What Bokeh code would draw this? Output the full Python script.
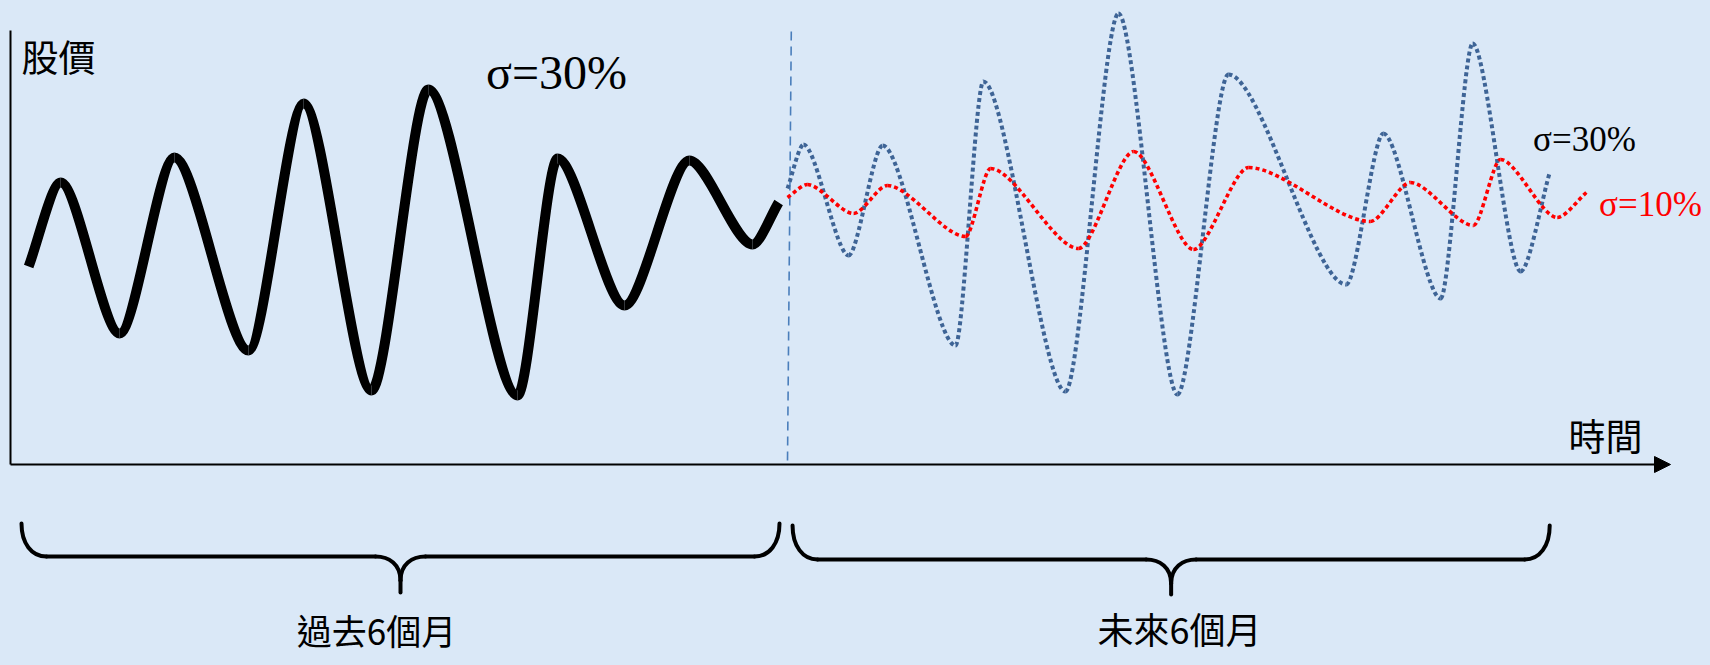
from bokeh.plotting import figure
from bokeh.models import Range1d, Label, Arrow, NormalHead
from bokeh.embed import file_html
from bokeh.resources import INLINE

# ---------------- data (time in days, price in arbitrary units) ----------------
past_day = [1.7, 9.3, 23.3, 36.3, 53.9, 67.0, 83.1, 96.6, 117.8, 127.3, 143.2, 158.6, 173.6, 179.8]
past_price = [99, 141, 65.5, 153.5, 57, 180.5, 37, 187.5, 34.5, 153, 79.5, 152, 110, 131]

fut30_day = [181.9, 185.7, 196.4, 204.5, 221.8, 228.4, 247.9, 260.5, 274.5, 286.6,
             314.6, 323.4, 337.0, 344.6, 356.0, 362.9]
fut30_price = [138, 160, 104.5, 159.5, 59.5, 191.5, 36.5, 225.5, 35, 195,
               90, 165.5, 83, 210.5, 96.5, 146]

fut10_day = [181.9, 186.6, 197.6, 205.6, 224.2, 230.1, 251.0, 264.1, 278.3, 291.4,
             320.3, 329.8, 344.8, 351.2, 364.7, 371.6]
fut10_price = [133.5, 140, 125.5, 139.5, 114, 148, 108, 156.5, 107.5, 148.5,
               121.5, 141, 119.5, 152.5, 123.5, 136]

period_names = ["過去6個月", "未來6個月"]
period_start = [0.0, 183.1]
period_end = [180.0, 362.9]
now_day = 182.4

y_title = "股價"
x_title = "時間"
sigma_hi = "σ=30%"
sigma_lo = "σ=10%"

# ---------------- layout helpers (canvas px -> data) ----------------
BG = "#DAE8F7"
PXD = 758 / 180.0   # px per day
X0 = 21.0           # canvas x of day 0
PXP = 2.0           # px per price unit
Y0 = 464.0          # canvas y of price 0


def dx(sx):
    return (sx - X0) / PXD


def dy(sy):
    return (Y0 - sy) / PXP


def sxd(d):
    return X0 + d * PXD


W, H = 1702, 657
p = figure(width=W, height=H, output_backend="svg", toolbar_location=None,
           x_axis_type=None, y_axis_type=None, min_border=0,
           x_range=Range1d(dx(0), dx(W)), y_range=Range1d(dy(H), dy(0)))
p.background_fill_color = BG
p.border_fill_color = BG
p.outline_line_color = None
p.grid.visible = False


def smooth(xs, ys, k=0.28):
    x0, y0, x1, y1, cx0, cy0, cx1, cy1 = [], [], [], [], [], [], [], []
    n = len(xs)
    for i in range(n - 1):
        ax, ay, bx, by = xs[i], ys[i], xs[i + 1], ys[i + 1]
        ddx = bx - ax
        x0.append(ax); y0.append(ay); x1.append(bx); y1.append(by)
        cx0.append(ax + k * ddx)
        cy0.append(ay if i > 0 else ay + k * (by - ay))
        cx1.append(bx - k * ddx)
        cy1.append(by if i + 1 < n - 1 else by - k * (by - ay))
    return dict(x0=x0, y0=y0, x1=x1, y1=y1, cx0=cx0, cy0=cy0, cx1=cx1, cy1=cy1)


# axes
p.segment(x0=[dx(10)], y0=[dy(464)], x1=[dx(10)], y1=[dy(30)], line_color="black", line_width=2)
p.add_layout(Arrow(end=NormalHead(size=16, fill_color="black", line_color="black", line_width=1),
                   x_start=dx(10), y_start=dy(464), x_end=dx(1670), y_end=dy(464),
                   line_color="black", line_width=2))

# now marker
p.segment(x0=[now_day + 0.4], y0=[dy(31)], x1=[now_day - 0.5], y1=[dy(461)],
          line_color="#4A7EBB", line_width=1.6, line_dash="9 6")

# curves
p.bezier(**smooth(fut30_day, fut30_price), line_color="#3E6496", line_width=4,
         line_dash="4 3", line_cap="butt")
p.bezier(**smooth(fut10_day, fut10_price), line_color="#FF0000", line_width=3.6,
         line_dash="4 3", line_cap="butt")
p.bezier(**smooth(past_day, past_price), line_color="black", line_width=10, line_cap="butt")

# braces
brace_tops = [523, 525]
brace_mids = [556, 559]
brace_tips = [592, 594]
bx0, by0, bx1, by1, bcx0, bcy0, bcx1, bcy1 = [], [], [], [], [], [], [], []
sx0, sy0, sx1, sy1 = [], [], [], []
for d0, d1, yt, ym, yp in zip(period_start, period_end, brace_tops, brace_mids, brace_tips):
    a, b = sxd(d0), sxd(d1)
    c = (a + b) / 2
    r = 25
    hooks = [
        ((a, yt), (a, yt + 0.6 * (ym - yt)), (a + 0.4 * r, ym), (a + r, ym)),
        ((b, yt), (b, yt + 0.6 * (ym - yt)), (b - 0.4 * r, ym), (b - r, ym)),
        ((c - r, ym), (c - 0.45 * r, ym), (c, ym + 8), (c, ym + 24)),
        ((c + r, ym), (c + 0.45 * r, ym), (c, ym + 8), (c, ym + 24)),
    ]
    for P0, C0, C1, P1 in hooks:
        bx0.append(dx(P0[0])); by0.append(dy(P0[1]))
        bcx0.append(dx(C0[0])); bcy0.append(dy(C0[1]))
        bcx1.append(dx(C1[0])); bcy1.append(dy(C1[1]))
        bx1.append(dx(P1[0])); by1.append(dy(P1[1]))
    for (u, v) in [(a + r, c - r), (c + r, b - r)]:
        sx0.append(dx(u)); sy0.append(dy(ym)); sx1.append(dx(v)); sy1.append(dy(ym))
    sx0.append(dx(c)); sy0.append(dy(ym + 24)); sx1.append(dx(c)); sy1.append(dy(yp))
p.bezier(x0=bx0, y0=by0, x1=bx1, y1=by1, cx0=bcx0, cy0=bcy0, cx1=bcx1, cy1=bcy1,
         line_color="black", line_width=4, line_cap="round")
p.segment(x0=sx0, y0=sy0, x1=sx1, y1=sy1, line_color="black", line_width=4, line_cap="round")

# texts
CJK = "Noto Sans CJK TC"
SER = "Liberation Serif"


def lab(x, y, t, font, size, color="black", align="center", base="middle"):
    p.add_layout(Label(x=x, y=y, text=t, text_font=font, text_font_size=size,
                       text_color=color, text_align=align, text_baseline=base))


lab(dx(21), dy(55), y_title, CJK, "37px", align="left")
lab(dx(1605), dy(434), x_title, CJK, "37px")
lab(dx(556), dy(72), sigma_hi, SER, "48px", base="alphabetic")
lab(dx(1584), dy(139), sigma_hi, SER, "35px", base="alphabetic")
lab(dx(1650), dy(204), sigma_lo, SER, "35px", color="#FF0000", base="alphabetic")
label_y = [629, 627]
label_x = [376, 1179]
label_size = ["35px", "36px"]
for name, lx, ly, fs in zip(period_names, label_x, label_y, label_size):
    lab(dx(lx), dy(ly), name, CJK, fs)

html = file_html(p, INLINE)
html = html.replace("</head>", "<style>html,body{background-color:%s;}</style></head>" % BG, 1)
open("out.html", "w").write(html)
